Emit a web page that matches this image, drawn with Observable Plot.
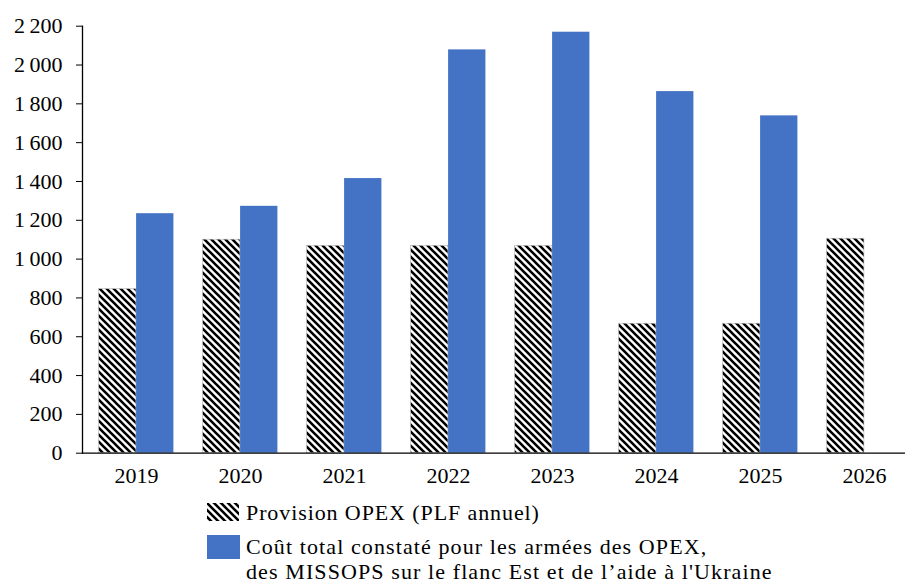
<!DOCTYPE html>
<html>
<head>
<meta charset="utf-8">
<script src="https://cdn.jsdelivr.net/npm/d3@7"></script>
<script src="https://cdn.jsdelivr.net/npm/@observablehq/plot@0.6"></script>
<style>
  html, body { margin: 0; padding: 0; background: #fff; }
  #wrap { width: 905px; position: relative; }
  #chart svg, #chart svg text { font-family: 'Liberation Serif', serif !important; }
  #legend { position: relative; height: 89px; font-family: 'Liberation Serif', serif; font-size: 22px; color: #000; overflow: hidden; }
  .txt { position: absolute; left: 246px; line-height: 25px; white-space: nowrap; letter-spacing: 0.9px; }
</style>
</head>
<body>
<div id="wrap">
  <div id="chart"></div>
  <div id="legend"></div>
</div>
<script>
const years = ["2019", "2020", "2021", "2022", "2023", "2024", "2025", "2026"];
const provision = [845, 1100, 1068, 1068, 1068, 667, 667, 1105];
const cout = [1234, 1272, 1415, 2078, 2169, 1863, 1738, null];
const yTicks = [0, 200, 400, 600, 800, 1000, 1200, 1400, 1600, 1800, 2000, 2200];
const seriesLabels = [
  "Provision OPEX (PLF annuel)",
  "Coût total constaté pour les armées des OPEX,\ndes MISSOPS sur le flanc Est et de l’aide à l'Ukraine"
];
const blue = "#4472C4";

const rows = years.map((year, i) => ({year, provision: provision[i], cout: cout[i]}));
const fmt = d => d3.format(",")(d).replace(/,/g, "\u202F");

const chart = Plot.plot({
  width: 905,
  height: 495,
  marginLeft: 82,
  marginRight: 0,
  marginTop: 25.7,
  marginBottom: 42.3,
  style: {fontFamily: "'Liberation Serif', serif", fontSize: "22px", color: "#000", background: "#fff", overflow: "hidden"},
  x: {domain: years, range: [83, 917], padding: 0, label: null},
  y: {domain: [0, 2200], label: null},
  marks: [
    Plot.barY(rows.filter(d => d.provision != null), {x: "year", y: "provision", fill: "url(#hatch)", insetLeft: 14.6, insetRight: 52.1, stroke: "#b8b8b8", strokeWidth: 0.6}),
    Plot.barY(rows.filter(d => d.cout != null), {x: "year", y: "cout", fill: blue, insetLeft: 52.1, insetRight: 14.6}),
    Plot.ruleY([0], {stroke: "#000", strokeWidth: 1.3}),
    Plot.frame({anchor: "left", stroke: "#000", strokeWidth: 1.3}),
    Plot.axisY(yTicks, {tickFormat: fmt, tickSize: 6, tickPadding: 14, label: null, stroke: "#000"}),
    Plot.axisX({tickSize: 0, tickPadding: 14, label: null})
  ]
});

function addHatch(svgSel, id) {
  const defs = svgSel.insert("defs", ":first-child");
  const p = defs.append("pattern").attr("id", id).attr("patternUnits", "userSpaceOnUse")
    .attr("width", 7).attr("height", 7);
  p.append("rect").attr("width", 7).attr("height", 7).attr("fill", "#fff");
  p.append("path").attr("d", "M-1,-1L8,8M-1,6L1,8M6,-1L8,1")
    .attr("stroke", "#000").attr("stroke-width", 2.6).attr("fill", "none");
}
addHatch(d3.select(chart), "hatch");
document.getElementById("chart").appendChild(chart);

// legend
const legend = d3.select("#legend");
const sw1 = legend.append("svg").attr("width", 32).attr("height", 18)
  .style("position", "absolute").style("left", "207px").style("top", "8px");
addHatch(sw1, "hatchLegend");
sw1.append("rect").attr("width", 32).attr("height", 18).attr("fill", "url(#hatchLegend)");
legend.append("div").attr("class", "txt").style("top", "5px").text(seriesLabels[0]);

legend.append("div").style("position", "absolute").style("left", "207px").style("top", "40px")
  .style("width", "33px").style("height", "24px").style("background", blue);
legend.append("div").attr("class", "txt").style("top", "39px").style("white-space", "pre").style("letter-spacing", "1.1px").text(seriesLabels[1]);
</script>
</body>
</html>
